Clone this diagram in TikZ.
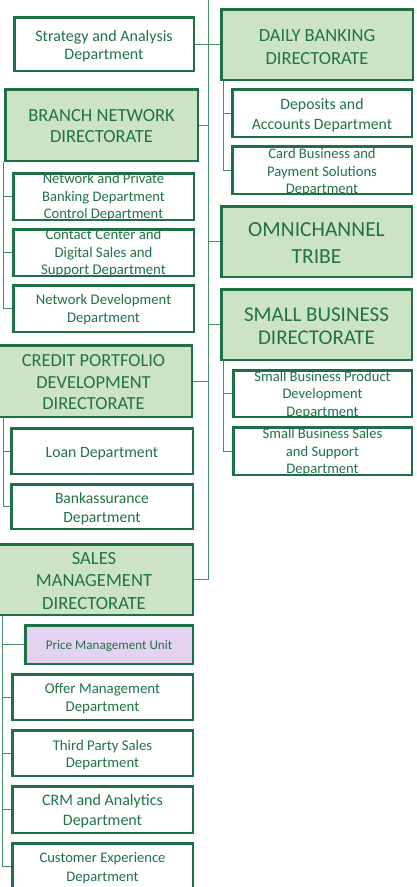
\documentclass[tikz,border=0pt]{standalone}
\usepackage{fontspec}
\setmainfont{Carlito}
\definecolor{boxg}{RGB}{30,113,69}
\definecolor{txtg}{RGB}{33,115,70}
\definecolor{lineg}{RGB}{70,140,100}
\definecolor{dirfill}{RGB}{205,227,197}
\definecolor{unitfill}{RGB}{227,210,242}
\newcommand{\fs}[2]{\fontsize{#1}{#2}\selectfont}
\tikzset{
  conn/.style={draw=lineg, line width=1pt},
  dirbox/.style={draw=boxg, line width=2.5pt, fill=dirfill, inner sep=0pt, rectangle},
  deptbox/.style={draw=boxg, line width=2.5pt, fill=white, inner sep=0pt, rectangle},
  unitbox/.style={deptbox, fill=unitfill},
  txt/.style={text=txtg, align=center, inner sep=0pt},
}
\begin{document}
\begin{tikzpicture}[x=1pt,y=-1pt]
\useasboundingbox (0,0) rectangle (417,887);
\clip (0,0) rectangle (417,887);
% spine and branch points
\coordinate (top) at (208,-2);
\coordinate (dv) at (223,81);
\coordinate (sv) at (223,361);
\coordinate (bv) at (3.5,162);
\coordinate (cv) at (3,418);
\coordinate (mv) at (2,616);

% right column
\node[dirbox, minimum width=191.5, minimum height=70.5] (daily) at (317,44.5) {};
\node[deptbox, minimum width=179.5, minimum height=47.5] (dep) at (322,113) {};
\node[deptbox, minimum width=179.5, minimum height=47.5] (card) at (322,170) {};
\node[dirbox, minimum width=190.5, minimum height=70.5] (omni) at (316.5,241.5) {};
\node[dirbox, minimum width=190.5, minimum height=70.5] (sb) at (316.5,324.5) {};
\node[deptbox, minimum width=178.5, minimum height=46.5] (sbp) at (322.5,393.5) {};
\node[deptbox, minimum width=178.5, minimum height=47.5] (sbs) at (322.5,451) {};

% left column
\node[deptbox, minimum width=179.5, minimum height=53.5] (strat) at (104,44) {};
\node[dirbox, minimum width=192.5, minimum height=71.5] (branch) at (101.5,125) {};
\node[deptbox, minimum width=180.5, minimum height=46.5] (nap) at (103.5,196.5) {};
\node[deptbox, minimum width=180.5, minimum height=46.5] (cc) at (103.5,252.5) {};
\node[deptbox, minimum width=180.5, minimum height=46.5] (nd) at (103.5,308.5) {};
\node[dirbox, minimum width=196.5, minimum height=71.5] (credit) at (93.5,381) {};
\node[deptbox, minimum width=181.5, minimum height=45.5] (loan) at (102,451) {};
\node[deptbox, minimum width=181.5, minimum height=44.5] (banka) at (102,506.5) {};
\node[dirbox, minimum width=197.5, minimum height=70.5] (sales) at (94,579.5) {};
\node[unitbox, minimum width=167.5, minimum height=38.5] (price) at (109,644.5) {};
\node[deptbox, minimum width=180.5, minimum height=45.5] (offer) at (102.5,697) {};
\node[deptbox, minimum width=180.5, minimum height=45.5] (third) at (102.5,753) {};
\node[deptbox, minimum width=180.5, minimum height=46.5] (crm) at (102.5,809.5) {};
\node[deptbox, minimum width=180.5, minimum height=46.5] (cx) at (102.5,866.5) {};

% texts
\node[txt, font=\fs{18.5}{23}] (daily-t) at ([yshift=-2.5pt]daily.center) {DAILY BANKING\\DIRECTORATE};
\node[txt, font=\fs{15.8}{20}] (dep-t) at ([yshift=-2pt]dep.center) {Deposits and\\Accounts Department};
\node[txt, font=\fs{14.6}{17.5}] (card-t) at ([yshift=-2.5pt]card.center) {Card Business and\\Payment Solutions\\Department};
\node[txt, font=\fs{21.5}{27}] (omni-t) at ([yshift=-2pt]omni.center) {OMNICHANNEL\\TRIBE};
\node[txt, font=\fs{21}{23}] (sb-t) at ([yshift=-2pt]sb.center) {SMALL BUSINESS\\DIRECTORATE};
\node[txt, font=\fs{14.6}{17.5}] (sbp-t) at ([yshift=-1.5pt]sbp.center) {Small Business Product\\Development\\Department};
\node[txt, font=\fs{14.6}{17.5}] (sbs-t) at ([yshift=-1.5pt]sbs.center) {Small Business Sales\\and Support\\Department};
\node[txt, font=\fs{16}{18.3}] (strat-t) at ([yshift=-2.5pt]strat.center) {Strategy and Analysis\\Department};
\node[txt, font=\fs{18.5}{21}] (branch-t) at ([yshift=-1pt]branch.center) {BRANCH NETWORK\\DIRECTORATE};
\node[txt, font=\fs{14.6}{17.5}] (nap-t) at ([yshift=-1pt]nap.center) {Network and Private\\Banking Department\\Control Department};
\node[txt, font=\fs{14.8}{17.5}] (cc-t) at ([yshift=-1pt]cc.center) {Contact Center and\\Digital Sales and\\Support Department};
\node[txt, font=\fs{14.7}{18}] (nd-t) at ([yshift=-1.5pt]nd.center) {Network Development\\Department};
\node[txt, font=\fs{18.4}{21.5}] (credit-t) at ([yshift=-1.5pt]credit.center) {CREDIT PORTFOLIO\\DEVELOPMENT\\DIRECTORATE};
\node[txt, font=\fs{15.8}{19}] (loan-t) at ([yshift=-2.5pt]loan.center) {Loan Department};
\node[txt, font=\fs{15.6}{19}] (banka-t) at ([yshift=-2pt]banka.center) {Bankassurance\\Department};
\node[txt, font=\fs{18.6}{22.5}] (sales-t) at ([yshift=-1.5pt]sales.center) {SALES\\MANAGEMENT\\DIRECTORATE};
\node[txt, font=\fs{13.1}{15}] (price-t) at ([yshift=-2pt]price.center) {Price Management Unit};
\node[txt, font=\fs{14.9}{18}] (offer-t) at ([yshift=-2pt]offer.center) {Offer Management\\Department};
\node[txt, font=\fs{14.8}{17.5}] (third-t) at ([yshift=-2pt]third.center) {Third Party Sales\\Department};
\node[txt, font=\fs{16}{20}] (crm-t) at ([yshift=-2pt]crm.center) {CRM and Analytics\\Department};
\node[txt, font=\fs{14.6}{19}] (cx-t) at ([yshift=-2pt]cx.center) {Customer Experience\\Department};

% connectors
\draw[conn] (top) |- (sales.east);
\draw[conn] (strat.east) -- (strat.east -| top);
\draw[conn] (daily.west) -- (daily.west -| top);
\draw[conn] (branch.east) -- (branch.east -| top);
\draw[conn] (omni.west) -- (omni.west -| top);
\draw[conn] (sb.west) -- (sb.west -| top);
\draw[conn] (credit.east) -- (credit.east -| top);

\draw[conn] (dv) |- (card.west);
\draw[conn] (dep.west -| dv) -- (dep.west);
\draw[conn] (sv) |- (sbs.west);
\draw[conn] (sbp.west -| sv) -- (sbp.west);

\draw[conn] (bv) |- (nd.west);
\draw[conn] (nap.west -| bv) -- (nap.west);
\draw[conn] (cc.west -| bv) -- (cc.west);
\draw[conn] (cv) |- (banka.west);
\draw[conn] (loan.west -| cv) -- (loan.west);
\draw[conn] (mv) |- (cx.west);
\draw[conn] (price.west -| mv) -- (price.west);
\draw[conn] (offer.west -| mv) -- (offer.west);
\draw[conn] (third.west -| mv) -- (third.west);
\draw[conn] (crm.west -| mv) -- (crm.west);
\end{tikzpicture}
\end{document}
